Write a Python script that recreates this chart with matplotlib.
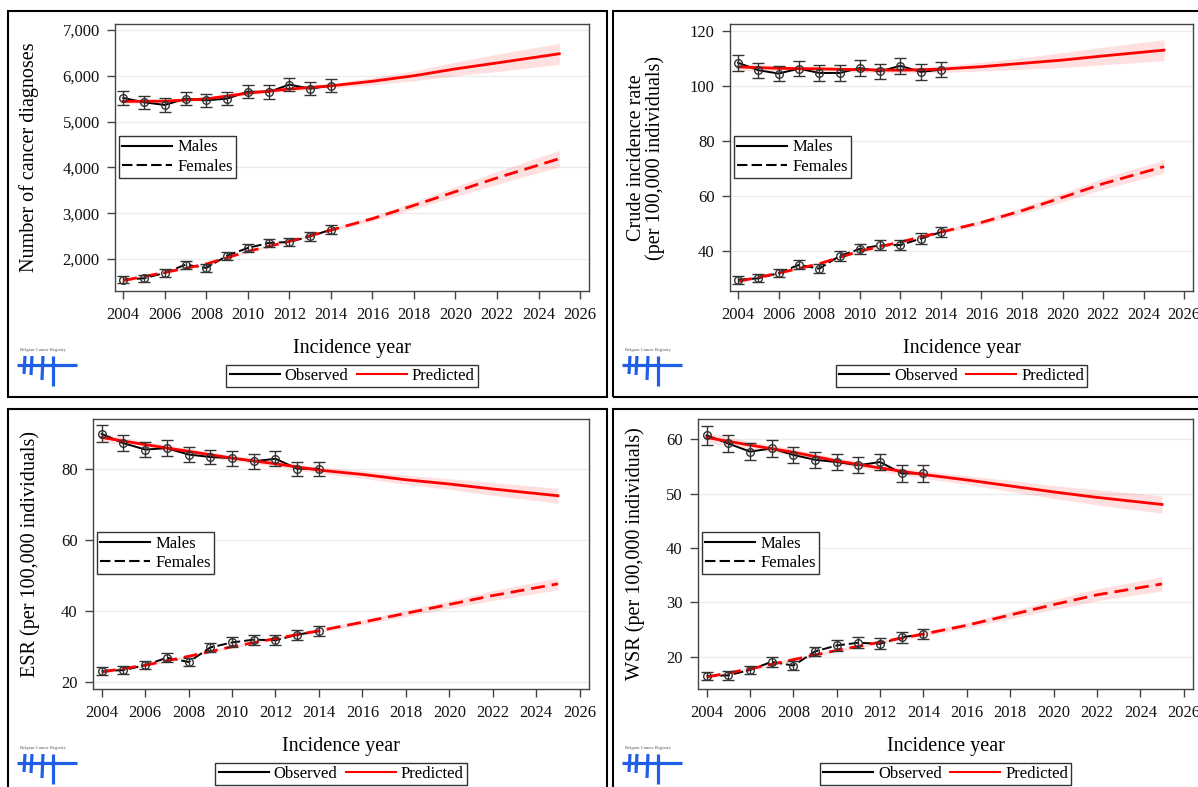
import matplotlib
matplotlib.use("Agg")
import matplotlib.pyplot as plt
from matplotlib.lines import Line2D
from matplotlib.patches import Rectangle
from matplotlib.ticker import FuncFormatter

plt.rcParams['font.family'] = ['Liberation Serif', 'DejaVu Serif']

# ---- data ----
years_obs = [2004, 2005, 2006, 2007, 2008, 2009, 2010, 2011, 2012, 2013, 2014]
pred_years = [2004, 2006, 2008, 2010, 2012, 2014, 2016, 2018, 2020, 2022, 2025]

# number of diagnoses
count_m_obs = [5515, 5420, 5362, 5500, 5463, 5500, 5655, 5646, 5806, 5718, 5784]
count_m_err = [145, 144, 143, 145, 145, 145, 147, 147, 149, 148, 149]
count_f_obs = [1548, 1577, 1695, 1876, 1804, 2072, 2240, 2349, 2371, 2493, 2640]
count_f_err = [77, 78, 81, 85, 83, 89, 93, 95, 95, 98, 101]
count_m_pred = [5440, 5445, 5495, 5620, 5710, 5780, 5880, 6000, 6150, 6280, 6480]
count_m_band = [60, 45, 40, 40, 45, 55, 80, 110, 150, 190, 230]
count_f_pred = [1530, 1705, 1890, 2165, 2385, 2630, 2880, 3170, 3470, 3770, 4190]
count_f_band = [35, 28, 25, 25, 28, 35, 55, 80, 110, 140, 180]

# crude incidence rate
crude_m_obs = [108.4, 105.7, 104.5, 106.3, 104.7, 104.7, 106.5, 105.3, 107.3, 105.1, 105.9]
crude_m_err = [2.9, 2.8, 2.8, 2.8, 2.8, 2.8, 2.8, 2.8, 2.8, 2.8, 2.8]
crude_f_obs = [29.6, 30.1, 32.0, 35.0, 33.6, 38.2, 40.8, 42.1, 42.2, 44.5, 46.9]
crude_f_err = [1.5, 1.5, 1.5, 1.6, 1.6, 1.7, 1.8, 1.8, 1.8, 1.9, 1.9]
crude_m_pred = [106.9, 106.4, 106.2, 105.9, 105.7, 106.1, 107.0, 108.2, 109.4, 110.9, 113.0]
crude_m_band = [1.3, 1.0, 0.9, 0.9, 1.0, 1.2, 1.6, 2.1, 2.7, 3.2, 3.8]
crude_f_pred = [29.0, 32.0, 35.4, 40.0, 43.3, 46.9, 50.4, 54.7, 59.5, 64.5, 70.7]
crude_f_band = [0.6, 0.5, 0.5, 0.5, 0.5, 0.6, 0.9, 1.2, 1.6, 2.0, 2.4]

# European standardised rate
esr_m_obs = [89.8, 87.2, 85.4, 85.8, 84.0, 83.3, 83.0, 82.1, 82.8, 80.0, 80.0]
esr_m_err = [2.4, 2.3, 2.2, 2.2, 2.2, 2.1, 2.1, 2.1, 2.1, 2.0, 2.0]
esr_f_obs = [23.1, 23.3, 24.7, 26.8, 25.6, 29.7, 31.1, 31.9, 31.7, 33.3, 34.3]
esr_f_err = [1.2, 1.2, 1.2, 1.3, 1.2, 1.3, 1.4, 1.4, 1.4, 1.4, 1.5]
esr_m_pred = [88.8, 86.8, 84.9, 83.0, 81.4, 79.6, 78.4, 76.9, 75.7, 74.3, 72.4]
esr_m_band = [1.2, 0.9, 0.8, 0.8, 0.8, 0.9, 1.1, 1.3, 1.5, 1.8, 2.1]
esr_f_pred = [22.8, 24.7, 27.2, 29.9, 32.2, 34.4, 36.8, 39.3, 41.8, 44.3, 47.6]
esr_f_band = [0.5, 0.4, 0.4, 0.4, 0.4, 0.5, 0.7, 0.9, 1.1, 1.4, 1.7]

# World standardised rate
wsr_m_obs = [60.7, 59.2, 57.7, 58.3, 57.1, 56.2, 55.8, 55.2, 55.8, 53.7, 53.7]
wsr_m_err = [1.7, 1.6, 1.6, 1.6, 1.5, 1.5, 1.5, 1.5, 1.5, 1.5, 1.5]
wsr_f_obs = [16.5, 16.6, 17.6, 19.1, 18.4, 21.0, 22.1, 22.6, 22.4, 23.6, 24.2]
wsr_f_err = [0.8, 0.8, 0.8, 0.9, 0.9, 0.9, 1.0, 1.0, 1.0, 1.0, 1.0]
wsr_m_pred = [60.3, 58.9, 57.6, 56.0, 54.7, 53.5, 52.5, 51.4, 50.3, 49.3, 48.0]
wsr_m_band = [0.9, 0.7, 0.6, 0.6, 0.6, 0.7, 0.8, 1.0, 1.2, 1.4, 1.6]
wsr_f_pred = [16.3, 17.8, 19.5, 21.2, 22.7, 24.2, 25.8, 27.7, 29.6, 31.4, 33.4]
wsr_f_band = [0.4, 0.3, 0.3, 0.3, 0.3, 0.4, 0.5, 0.7, 0.9, 1.1, 1.3]

x_ticks = list(range(2004, 2027, 2))

W, H = 1198, 787
RED = '#ff0000'
LOGO_BLUE = '#1f5ee6'


def fx(x):
    return x / W


def fy(y):
    return 1 - y / H


def draw_logo(fig, x0, y0):
    fig.text(fx(x0), fy(y0), "Belgian Cancer Registry", fontsize=3.3,
             color='#555555', ha='left', va='center')
    segs = [
        ((x0 - 3, y0 + 15), (x0 + 57, y0 + 15)),
        ((x0 + 5, y0 + 6), (x0 + 4, y0 + 24)),
        ((x0 + 12, y0 + 6), (x0 + 11, y0 + 25)),
        ((x0 + 23, y0 + 6), (x0 + 22, y0 + 30)),
        ((x0 + 33, y0 + 6), (x0 + 33, y0 + 36)),
    ]
    for (xa, ya), (xb, yb) in segs:
        fig.add_artist(Line2D([fx(xa), fx(xb)], [fy(ya), fy(yb)],
                              transform=fig.transFigure, color=LOGO_BLUE,
                              lw=2.3, solid_capstyle='butt'))


def draw_panel(fig, box, frame, ylabel, ylabel_x, ylim, yticks, series, thousands=False):
    left, top, right, bottom = box
    ax = fig.add_axes([fx(left), fy(bottom), (right - left) / W, (bottom - top) / H])

    (m_obs, m_err, f_obs, f_err, m_pred, m_band, f_pred, f_band) = series
    for pred, band, obs, err, ls in [(m_pred, m_band, m_obs, m_err, '-'),
                                     (f_pred, f_band, f_obs, f_err, '--')]:
        lo = [p - b for p, b in zip(pred, band)]
        hi = [p + b for p, b in zip(pred, band)]
        ax.fill_between(pred_years, lo, hi, color=RED, alpha=0.12, lw=0, zorder=1)
        ax.plot(years_obs, obs, color='black', lw=1.4, ls=ls,
                dashes=(5, 2) if ls == '--' else (None, None), zorder=2)
        ax.plot(pred_years, pred, color=RED, lw=2.0, ls=ls,
                dashes=(5, 2.5) if ls == '--' else (None, None), zorder=3)
        ax.errorbar(years_obs, obs, yerr=err, fmt='o', ms=5.5, mfc='none',
                    mec='#333333', mew=1.0, ecolor='#333333', elinewidth=1.0,
                    capsize=4, capthick=1.0, zorder=4)

    ax.set_xlim(2003.6, 2026.43)
    ax.set_ylim(*ylim)
    ax.set_xticks(x_ticks)
    ax.set_yticks(yticks)
    if thousands:
        ax.yaxis.set_major_formatter(FuncFormatter(lambda v, p: f"{int(v):,}"))
    ax.grid(axis='y', color='#ececec', lw=1.0, zorder=0)
    ax.set_axisbelow(True)
    for s in ax.spines.values():
        s.set_color('#444444')
        s.set_linewidth(1.0)
    ax.tick_params(direction='out', length=6, width=1, color='#444444',
                   labelsize=12, labelcolor='#111111')
    ax.tick_params(axis='x', pad=5.5)
    ax.tick_params(axis='y', pad=5)

    sex_handles = [Line2D([], [], color='black', lw=1.5),
                   Line2D([], [], color='black', lw=1.5, ls='--', dashes=(5, 2))]
    leg = ax.legend(sex_handles, ["Males", "Females"], loc='upper left',
                    bbox_to_anchor=(0.008, 0.58), borderaxespad=0, fontsize=12,
                    handlelength=3.0, handletextpad=0.3, borderpad=0.2,
                    labelspacing=0.2, fancybox=False, framealpha=1,
                    edgecolor='#333333')
    leg.get_frame().set_linewidth(1.0)

    cx = (left + right) / 2
    fig.text(fx(ylabel_x), fy((top + bottom) / 2), ylabel, rotation=90,
             ha='center', va='center', fontsize=14.5, multialignment='center',
             linespacing=1.0)
    fig.text(fx(cx), fy(bottom + 57), "Incidence year", ha='center',
             va='center', fontsize=14.5)

    obs_handles = [Line2D([], [], color='black', lw=1.5),
                   Line2D([], [], color=RED, lw=1.5)]
    leg2 = fig.legend(obs_handles, ["Observed", "Predicted"], loc='center',
                      bbox_to_anchor=(fx(cx), fy(bottom + 85)),
                      bbox_transform=fig.transFigure, ncol=2, fontsize=12,
                      handlelength=3.0, handletextpad=0.3, borderpad=0.2,
                      columnspacing=0.5, fancybox=False, framealpha=1,
                      edgecolor='#333333')
    leg2.get_frame().set_linewidth(1.0)

    fl, ft, fr, fb = frame
    fig.add_artist(Rectangle((fx(fl), fy(fb)), (fr - fl) / W, (fb - ft) / H,
                             transform=fig.transFigure, fill=False,
                             edgecolor='black', lw=1.5))
    draw_logo(fig, fl + 12, ft + 339)
    return ax


fig = plt.figure(figsize=(W / 100, H / 100), dpi=100)

draw_panel(fig, (115, 24, 589, 291), (8, 11, 607, 397),
           "Number of cancer diagnoses", 29, (1300, 7130),
           [2000, 3000, 4000, 5000, 6000, 7000],
           (count_m_obs, count_m_err, count_f_obs, count_f_err,
            count_m_pred, count_m_band, count_f_pred, count_f_band),
           thousands=True)

draw_panel(fig, (730, 24, 1193, 291), (613, 11, 1210, 397),
           "Crude incidence rate\n(per 100,000 individuals)", 646, (25.5, 122.5),
           [40, 60, 80, 100, 120],
           (crude_m_obs, crude_m_err, crude_f_obs, crude_f_err,
            crude_m_pred, crude_m_band, crude_f_pred, crude_f_band))

draw_panel(fig, (93, 419, 589, 689), (8, 409, 607, 800),
           "ESR (per 100,000 individuals)", 30, (18, 94),
           [20, 40, 60, 80],
           (esr_m_obs, esr_m_err, esr_f_obs, esr_f_err,
            esr_m_pred, esr_m_band, esr_f_pred, esr_f_band))

draw_panel(fig, (698, 419, 1193, 689), (613, 409, 1210, 800),
           "WSR (per 100,000 individuals)", 635, (14.1, 63.7),
           [20, 30, 40, 50, 60],
           (wsr_m_obs, wsr_m_err, wsr_f_obs, wsr_f_err,
            wsr_m_pred, wsr_m_band, wsr_f_pred, wsr_f_band))

fig.savefig("out.png", dpi=100)
